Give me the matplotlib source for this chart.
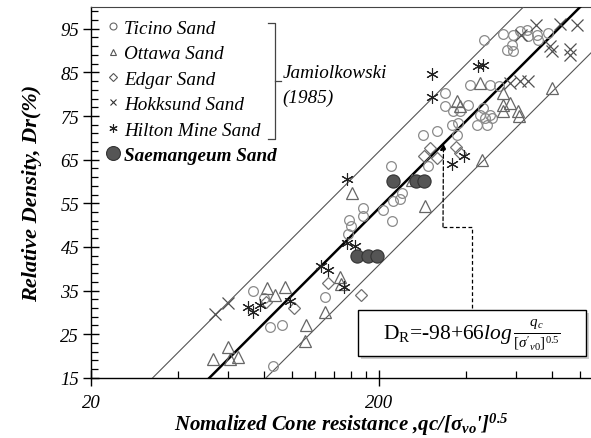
import numpy as np
import matplotlib
matplotlib.use('Agg')
import matplotlib.pyplot as plt
from matplotlib.lines import Line2D
from matplotlib.patches import Rectangle
from matplotlib.ticker import FixedLocator, FixedFormatter, NullFormatter

plt.rcParams['font.family'] = ['Liberation Serif', 'DejaVu Serif']
plt.rcParams['mathtext.fontset'] = 'custom'
plt.rcParams['mathtext.rm'] = 'Liberation Serif'
plt.rcParams['mathtext.it'] = 'Liberation Serif:italic'
plt.rcParams['mathtext.bf'] = 'Liberation Serif:bold:italic'

# Jamiolkowski (1985) calibration chamber data: qc/[sigma'vo]^0.5 vs Dr(%)
ticino_q = [73, 80, 84, 92, 86, 130, 157, 160, 156, 176, 176, 206, 222, 224, 237, 240,
            220, 296, 284, 318, 373, 339, 339, 361, 382, 407, 376, 359, 438, 474, 448,
            486, 459, 414, 486, 522, 463, 539, 584, 617, 653, 658, 707, 713, 773, 557,
            579, 584, 467, 494]
ticino_dr = [34.8, 33.2, 26.7, 27.0, 17.8, 33.6, 51.1, 49.9, 47.9, 53.9, 52.0, 53.4, 50.9,
             55.5, 55.9, 57.3, 63.5, 63.5, 70.6, 71.6, 70.6, 80.3, 77.3, 76.2, 76.2, 77.5,
             73.4, 72.9, 72.9, 72.9, 75.2, 75.2, 76.8, 82.1, 82.1, 81.9, 92.5, 93.9, 93.6,
             94.5, 94.8, 93.4, 93.6, 92.5, 94.1, 90.2, 91.3, 89.9, 74.5, 74.5]

ottawa_q = [53, 60, 61, 65, 82, 87, 94, 112, 111, 130, 146, 148, 161, 260, 289, 373, 382,
            448, 539, 539, 570, 539, 608, 613, 798, 456]
ottawa_dr = [19.4, 22.1, 19.4, 19.8, 35.7, 33.9, 35.9, 27.0, 23.5, 30.2, 38.0, 36.6, 57.3,
             60.3, 54.3, 78.4, 77.3, 82.6, 80.3, 77.5, 78.0, 76.2, 76.2, 75.0, 81.4, 64.9]

edgar_q = [81, 101, 133, 173, 301, 287, 318, 370, 382]
edgar_dr = [32.4, 30.9, 36.8, 34.1, 67.6, 65.8, 65.3, 67.9, 66.5]

hokksund_q = [54, 60, 570, 617, 658, 622, 702, 850, 974, 785, 798, 921, 921]
hokksund_dr = [29.7, 32.2, 82.6, 83.0, 83.0, 93.6, 95.9, 96.1, 95.9, 91.1, 89.9, 90.4, 89.0]

hilton_q = [70, 73, 77, 98, 126, 133, 151, 155, 165, 155, 306, 306, 441, 459, 359, 395]
hilton_dr = [31.3, 30.2, 31.6, 32.7, 40.7, 39.6, 35.9, 45.8, 45.1, 60.5, 84.7, 79.4, 86.5,
             86.7, 64.0, 65.8]

# Saemangeum sand test results
saemangeum_q = [224, 269, 287, 168, 183, 197]
saemangeum_dr = [60, 60, 60, 43, 43, 43]

# Dr = a + b*log(qc/sqrt(sigma'vo)), with +/- band
coef_a = -98
coef_b = 66
band = 13

fig = plt.figure(figsize=(5.91, 4.39), dpi=100)
ax = fig.add_axes([0.154, 0.137, 0.846, 0.845])
ax.set_xscale('log')
ax.set_xlim(20, 1090)
ax.set_ylim(15, 100)

q_line = np.logspace(np.log10(20), np.log10(1100), 200)
dr_line = coef_a + coef_b * np.log10(q_line)
ax.plot(q_line, dr_line, color='black', lw=1.8, zorder=3)
ax.plot(q_line, dr_line + band, color='#555555', lw=0.8, zorder=3)
ax.plot(q_line, dr_line - band, color='#555555', lw=0.8, zorder=3)

ax.plot(ticino_q, ticino_dr, ls='none', marker='o', ms=7, mfc='none', mec='#8a8a8a', mew=0.9, zorder=4)
ax.plot(ottawa_q, ottawa_dr, ls='none', marker='^', ms=8, mfc='none', mec='#666666', mew=0.9, zorder=4)
ax.plot(edgar_q, edgar_dr, ls='none', marker='D', ms=6, mfc='none', mec='#707070', mew=0.9, zorder=4)
ax.plot(hokksund_q, hokksund_dr, ls='none', marker='x', ms=8, mec='#505050', mew=0.9, zorder=4)
ax.plot(hilton_q, hilton_dr, ls='none', marker=(6, 2, 0), ms=9, mec='#222222', mew=0.8, zorder=4)
ax.plot(saemangeum_q, saemangeum_dr, ls='none', marker='o', ms=9.5, mfc='#555555', mec='#333333', mew=0.8, zorder=5)

# axes styling
ax.spines['right'].set_visible(False)
ax.spines['top'].set_color('#444444')
for s in ['left', 'bottom']:
    ax.spines[s].set_linewidth(1.0)

ax.xaxis.set_major_locator(FixedLocator([20, 200]))
ax.xaxis.set_major_formatter(FixedFormatter(['20', '200']))
ax.xaxis.set_minor_locator(FixedLocator([40, 60, 80, 100, 120, 140, 160, 180, 400, 600, 800, 1000]))
ax.xaxis.set_minor_formatter(NullFormatter())
ax.yaxis.set_major_locator(FixedLocator(np.arange(15, 100, 10)))
ax.yaxis.set_minor_locator(FixedLocator(np.arange(15, 101, 2)))
ax.tick_params(which='major', direction='inout', length=11, width=1.0, labelsize=13.5, pad=6)
ax.tick_params(which='minor', direction='in', length=5, width=0.9)
ax.tick_params(axis='y', which='major', pad=3)
for lab in ax.get_xticklabels() + ax.get_yticklabels():
    lab.set_fontstyle('italic')

ax.set_ylabel('Relative Density, Dr(%)', fontsize=16, fontweight='bold', fontstyle='italic', labelpad=13)
ax.set_xlabel(r"Nomalized Cone resistance ,qc/[$\mathbf{\sigma_{vo}}$']$^{\mathbf{0.5}}$",
              fontsize=15, fontweight='bold', fontstyle='italic', labelpad=0)

# legend
handles = [
    Line2D([], [], ls='none', marker='o', ms=5, mfc='none', mec='#666666', mew=0.8),
    Line2D([], [], ls='none', marker='^', ms=5, mfc='none', mec='#555555', mew=0.8),
    Line2D([], [], ls='none', marker='D', ms=4, mfc='none', mec='#555555', mew=0.8),
    Line2D([], [], ls='none', marker='x', ms=5, mec='#333333', mew=0.8),
    Line2D([], [], ls='none', marker=(6, 2, 0), ms=6, mec='#222222', mew=0.8),
    Line2D([], [], ls='none', marker='o', ms=10, mfc='#555555', mec='#333333', mew=0.8),
]
labels = ['Ticino Sand', 'Ottawa Sand', 'Edgar Sand', 'Hokksund Sand', 'Hilton Mine Sand',
          'Saemangeum Sand']
leg = ax.legend(handles, labels, loc='upper left', bbox_to_anchor=(0.003, 1.0), frameon=False,
                handlelength=0.8, handletextpad=0.2, labelspacing=0.42, borderaxespad=0.25,
                prop={'style': 'italic', 'size': 13.8})
leg.get_texts()[-1].set_fontweight('bold')

# bracket grouping the Jamiolkowski data sets
bx0, bx1, btip = 0.354, 0.368, 0.38
by_top, by_bot, by_mid = 0.957, 0.644, 0.80
ax.plot([bx0, bx1, bx1, bx0], [by_top, by_top, by_bot, by_bot], transform=ax.transAxes,
        color='#444444', lw=0.9, clip_on=False)
ax.plot([bx1, btip], [by_mid, by_mid], transform=ax.transAxes, color='#444444', lw=0.9)
ax.text(0.383, 0.79, 'Jamiolkowski\n(1985)', transform=ax.transAxes, ha='left', va='center',
        fontsize=13.8, fontstyle='italic', linespacing=1.55)

# equation box with shadow
bx, by, bw, bh = 0.534, 0.059, 0.456, 0.124
ax.add_patch(Rectangle((bx + 0.005, by - 0.007), bw, bh, transform=ax.transAxes,
                       facecolor='#cfcfcf', edgecolor='none', zorder=6, clip_on=False))
ax.add_patch(Rectangle((bx, by), bw, bh, transform=ax.transAxes,
                       facecolor='white', edgecolor='black', lw=1.0, zorder=7, clip_on=False))
ax.text(bx + bw / 2, by + bh / 2 - 0.004,
        r"$\mathrm{D_R}$=-98+66$\mathit{log}\,\frac{q_c}{[\sigma'_{v0}]^{0.5}}$",
        transform=ax.transAxes, ha='center', va='center', fontsize=15.5, zorder=8)

# dashed leader from box to the fitted line
q_tip = 335
dr_tip = coef_a + coef_b * np.log10(q_tip)
ax.plot([0.704, 0.762, 0.762], [0.407, 0.407, by + bh], transform=ax.transAxes,
        color='black', lw=0.9, ls=(0, (3, 2)), zorder=6)
ax.annotate('', xy=(q_tip, dr_tip), xycoords='data', xytext=(0.704, 0.407),
            textcoords='axes fraction',
            arrowprops=dict(arrowstyle='-|>', color='black', lw=0.9, ls=(0, (3, 2)),
                            mutation_scale=9, shrinkA=0, shrinkB=0), zorder=6)

fig.savefig('out.png', dpi=100)
